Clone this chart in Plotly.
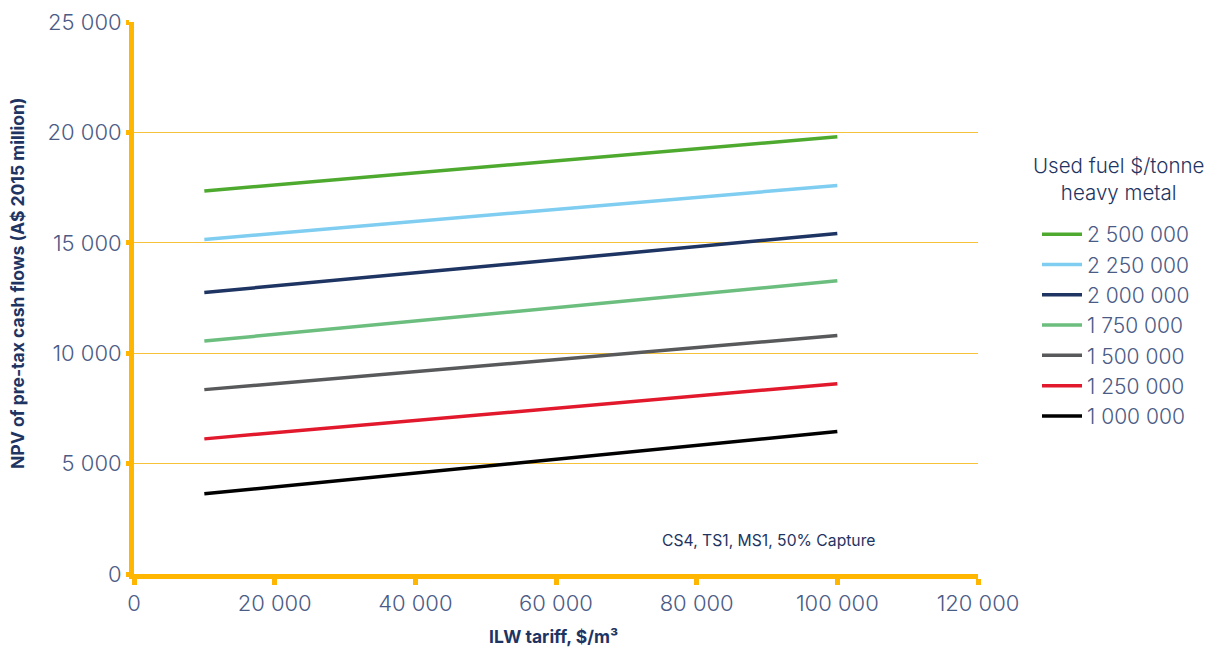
import plotly.graph_objects as go

tariff = [10000, 100000]
series_names = ["2 500 000", "2 250 000", "2 000 000", "1 750 000", "1 500 000", "1 250 000", "1 000 000"]
npv_2500 = [17350, 19800]
npv_2250 = [15150, 17600]
npv_2000 = [12750, 15420]
npv_1750 = [10550, 13280]
npv_1500 = [8350, 10800]
npv_1250 = [6120, 8620]
npv_1000 = [3630, 6450]
series_values = [npv_2500, npv_2250, npv_2000, npv_1750, npv_1500, npv_1250, npv_1000]
colors = ["#4EAA2F", "#7FCDF0", "#1E3462", "#6CBE7E", "#58595B", "#E2192D", "#000000"]

x_ticks = [0, 20000, 40000, 60000, 80000, 100000, 120000]
y_ticks = [0, 5000, 10000, 15000, 20000, 25000]

tick_color = "#4A5B86"
title_color = "#1E3462"
orange = "#FFB600"
grid = "#F6C23A"
fam = "Inter, sans-serif"

W, H = 1216, 648
L, R, T, B = 134, 238, 22, 74
PW = W - L - R
PH = H - T - B


def px(pix):
    return (pix - L) / PW


def py(pix):
    return 1 - (pix - T) / PH


fig = go.Figure()
for name, vals, c in zip(series_names, series_values, colors):
    fig.add_trace(go.Scatter(x=tariff, y=vals, mode="lines", name=name,
                             line=dict(color=c, width=3.5)))

fig.update_layout(
    width=W, height=H,
    paper_bgcolor="white", plot_bgcolor="white",
    margin=dict(l=L, r=R, t=T, b=B, autoexpand=False),
    separators=". ",
    font=dict(family=fam, color=tick_color),
    legend=dict(
        font=dict(size=21, color=tick_color, family=fam, weight=300),
        x=px(1037), y=py(214), xanchor="left", yanchor="top",
        tracegroupgap=0, itemwidth=40,
    ),
    xaxis=dict(
        range=[0, 120000], tickvals=x_ticks, tickformat=",d",
        showgrid=False, zeroline=False,
        showline=True, linecolor=orange, linewidth=5,
        ticks="outside", ticklen=6, tickwidth=5, tickcolor=orange,
        tickfont=dict(size=22, color=tick_color, weight=300),
    ),
    yaxis=dict(
        range=[0, 25000], tickvals=y_ticks, tickformat=",d",
        showgrid=True, gridcolor=grid, gridwidth=1.3, zeroline=False,
        showline=True, linecolor=orange, linewidth=5,
        ticks="outside", ticklen=3, tickwidth=5, tickcolor=orange,
        tickfont=dict(size=22, color=tick_color, weight=300),
    ),
    annotations=[
        dict(text="<b>ILW tariff, $/m³</b>", x=px(553), y=py(636),
             xref="paper", yref="paper", xanchor="center", yanchor="middle",
             showarrow=False, font=dict(size=17.5, color=title_color)),
        dict(text="<b>NPV of pre-tax cash flows (A$ 2015 million)</b>", x=px(17), y=py(284),
             xref="paper", yref="paper", xanchor="center", yanchor="middle",
             textangle=-90, showarrow=False, font=dict(size=17.5, color=title_color)),
        dict(text="CS4, TS1, MS1, 50% Capture", x=px(768), y=py(540),
             xref="paper", yref="paper", xanchor="center", yanchor="middle",
             showarrow=False, font=dict(size=15.7, color=title_color)),
        dict(text="Used fuel $/tonne<br>heavy metal", x=px(1118), y=py(179),
             xref="paper", yref="paper", xanchor="center", yanchor="middle",
             align="center", showarrow=False,
             font=dict(size=20.5, color=title_color, weight=300)),
    ],
)

fig.write_html("out.html", config={"displayModeBar": False},
               post_script="document.body.style.margin='0';")
